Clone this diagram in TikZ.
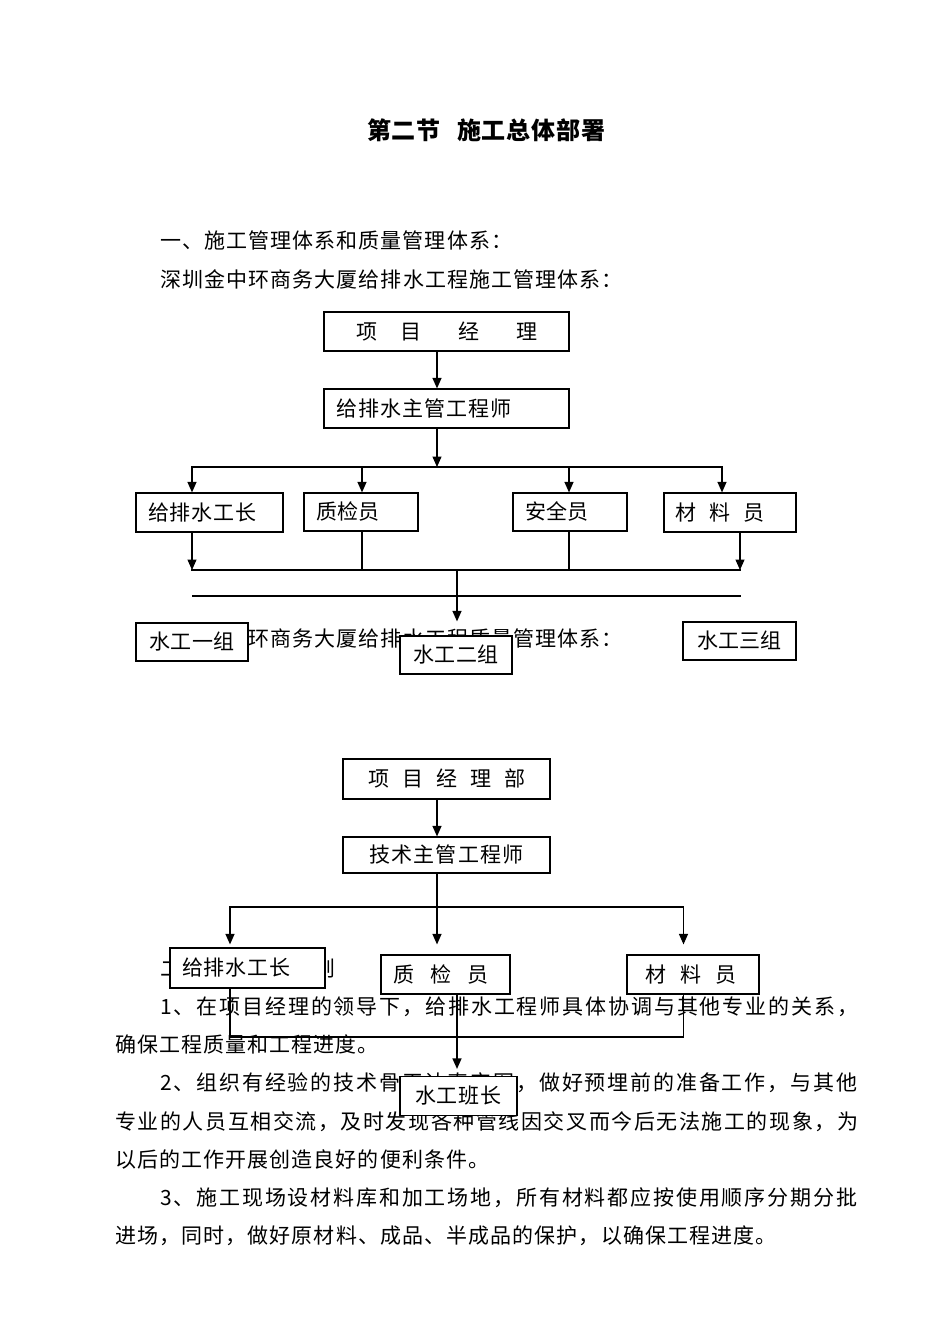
\documentclass[tikz,border=0pt]{standalone}
\usepackage{fontspec}
\setmainfont{Noto Sans CJK SC}
\newfontfamily\cjk{Noto Sans CJK SC}
\usetikzlibrary{arrows.meta}
\newcommand\myBody{\cjk\fontsize{21pt}{25pt}\selectfont}
\newcommand\myTitle{\cjk\bfseries\fontsize{24pt}{28pt}\selectfont}
\newcommand\spr[2]{\hbox to #1{\sprx#2\relax\unskip}}
\def\sprx#1{\ifx\relax#1\else#1\hfill\expandafter\sprx\fi}
\tikzset{
  bx/.style={draw, fill=white, line width=1.2pt, inner sep=0pt, text height=17pt, text depth=1.5pt, font=\myBody},
  ln/.style={line width=1.2pt, line cap=rect},
  arr/.style={line width=1.2pt, -{Triangle[length=10.5pt,width=9pt]}},
  txt/.style={anchor=base west, inner sep=0pt, font=\myBody},
}
\begin{document}
\begin{tikzpicture}[x=1pt,y=-1pt]
\fill[white] (0,0) rectangle (950,1344);
\useasboundingbox (0,0) rectangle (950,1344);

% ---------- texts ----------
\node[anchor=base west, inner sep=0pt, font=\myTitle] (title) at (367,139)
  {\hbox{\spr{73pt}{第二节}\hspace{17pt}\spr{148pt}{施工总体部署}}};
\node[txt] (l1) at (160,248) {\spr{352pt}{一、施工管理体系和质量管理体系：}};
\node[txt] (l2) at (160,287) {\spr{462.5pt}{深圳金中环商务大厦给排水工程施工管理体系：}};
\node[txt] (l3) at (160,646) {\spr{462.5pt}{深圳金中环商务大厦给排水工程质量管理体系：}};
\node[txt] (p0) at (160,976) {\hbox{\spr{43.1pt}{二、}\hspace{111.6pt}则}};
\node[txt] (p1) at (160,1014.5) {\spr{698pt}{1、在项目经理的领导下，给排水工程师具体协调与其他专业的关系，}};
\node[txt] (p2) at (115,1052.5) {\spr{263.6pt}{确保工程质量和工程进度。}};
\node[txt] (p3) at (160,1090.5) {\spr{697pt}{2、组织有经验的技术骨干认真审图，做好预埋前的准备工作，与其他}};
\node[txt] (p4) at (115,1129) {\spr{743pt}{专业的人员互相交流，及时发现各种管线因交叉而今后无法施工的现象，为}};
\node[txt] (p5) at (115,1167) {\spr{374.1pt}{以后的工作开展创造良好的便利条件。}};
\node[txt] (p6) at (160,1205.3) {\spr{697pt}{3、施工现场设材料库和加工场地，所有材料都应按使用顺序分期分批}};
\node[txt] (p7) at (115,1243.5) {\spr{661.4pt}{进场，同时，做好原材料、成品、半成品的保护，以确保工程进度。}};

% ---------- chart 1 boxes ----------
\node[bx, minimum width=245pt, minimum height=39pt] (pm) at (446.5,331.5)
  {项\hspace{24pt}目\hspace{37pt}经\hspace{36pt}理};
\node[bx, minimum width=245pt, minimum height=39pt] (zg) at (446.5,408.5)
  {\makebox[245pt][l]{\hspace*{12pt}\spr{176pt}{给排水主管工程师}}};
\node[bx, minimum width=147pt, minimum height=39pt] (gz1) at (209.5,512.5)
  {\makebox[147pt][l]{\hspace*{12pt}\spr{109pt}{给排水工长}}};
\node[bx, minimum width=114pt, minimum height=38pt] (zj1) at (361,512)
  {\makebox[114pt][l]{\hspace*{12pt}\spr{63pt}{质检员}}};
\node[bx, minimum width=114pt, minimum height=38pt] (aq) at (570,512)
  {\makebox[114pt][l]{\hspace*{12pt}\spr{63pt}{安全员}}};
\node[bx, minimum width=132pt, minimum height=39pt] (cl1) at (730,512.5)
  {\makebox[132pt][l]{\hspace*{11pt}材\hspace{13pt}料\hspace{13pt}员}};
\node[bx, minimum width=112pt, minimum height=38pt] (sg1) at (192,642) {\spr{85pt}{水工一组}};
\node[bx, minimum width=112pt, minimum height=38pt] (sg2) at (456,655) {\spr{85pt}{水工二组}};
\node[bx, minimum width=113pt, minimum height=38pt] (sg3) at (739.5,641) {\spr{85pt}{水工三组}};

% ---------- chart 2 boxes ----------
\node[bx, minimum width=207pt, minimum height=40pt] (pmb) at (446.5,779)
  {项\hspace{13pt}目\hspace{13pt}经\hspace{13pt}理\hspace{13pt}部};
\node[bx, minimum width=207pt, minimum height=36pt] (js) at (446.5,855) {\spr{154pt}{技术主管工程师}};
\node[bx, minimum width=155pt, minimum height=40pt] (gz2) at (247.5,968)
  {\makebox[155pt][l]{\hspace*{12pt}\spr{109pt}{给排水工长}}};
\node[bx, minimum width=129pt, minimum height=39pt] (zj2) at (445.5,974.5)
  {\makebox[129pt][l]{\hspace*{12.5pt}质\hspace{16pt}检\hspace{16pt}员}};
\node[bx, minimum width=132pt, minimum height=39pt] (cl2) at (693,974.5)
  {\makebox[132pt][l]{\hspace*{18.5pt}材\hspace{14pt}料\hspace{14pt}员}};
\node[bx, minimum width=117pt, minimum height=39pt] (bz) at (458.5,1096) {\spr{87pt}{水工班长}};

% ---------- chart 1 connectors ----------
\coordinate (j1) at (437,467);
\coordinate (bL) at (192,467);
\coordinate (bQ) at (362,467);
\coordinate (bS) at (569,467);
\coordinate (bR) at (722,467);
\coordinate (cL) at (192,570);
\coordinate (cQ) at (362,570);
\coordinate (cS) at (569,570);
\coordinate (cR) at (740,570);
\coordinate (cM) at (457,570);
\coordinate (dL) at (193,596);
\coordinate (dR) at (740,596);
\draw[arr] (pm.south -| j1) -- (zg.north -| j1);
\draw[arr] (zg.south -| j1) -- (j1);
\draw[ln] (bL) -- (bR);
\draw[arr] (bL) -- (gz1.north -| bL);
\draw[arr] (bQ) -- (zj1.north -| bQ);
\draw[arr] (bS) -- (aq.north -| bS);
\draw[arr] (bR) -- (cl1.north -| bR);
\draw[arr] (gz1.south -| cL) -- (cL);
\draw[ln] (zj1.south -| cQ) -- (cQ);
\draw[ln] (aq.south -| cS) -- (cS);
\draw[arr] (cl1.south -| cR) -- (cR);
\draw[ln] (cL) -- (cR);
\draw[arr, shorten >=14pt] (cM) -- (sg2.north -| cM);
\draw[ln] (dL) -- (dR);

% ---------- chart 2 connectors ----------
\coordinate (k1) at (437,907);
\coordinate (eL) at (230,907);
\coordinate (eR) at (683.5,907);
\coordinate (fL) at (230,1037);
\coordinate (fR) at (683.5,1037);
\coordinate (fM) at (457,1037);
\draw[arr] (pmb.south -| k1) -- (js.north -| k1);
\draw[arr, shorten >=10pt] (js.south -| k1) -- (zj2.north -| k1);
\draw[ln] (eL) -- (eR);
\draw[arr, shorten >=3pt] (eL) -- (gz2.north -| eL);
\draw[arr, shorten >=10pt] (eR) -- (cl2.north -| eR);
\draw[ln] (gz2.south -| fL) -- (fL) -- (fR) -- (cl2.south -| fR);
\draw[arr, shorten >=7pt] (zj2.south -| fM) -- (bz.north -| fM);
\end{tikzpicture}
\end{document}
